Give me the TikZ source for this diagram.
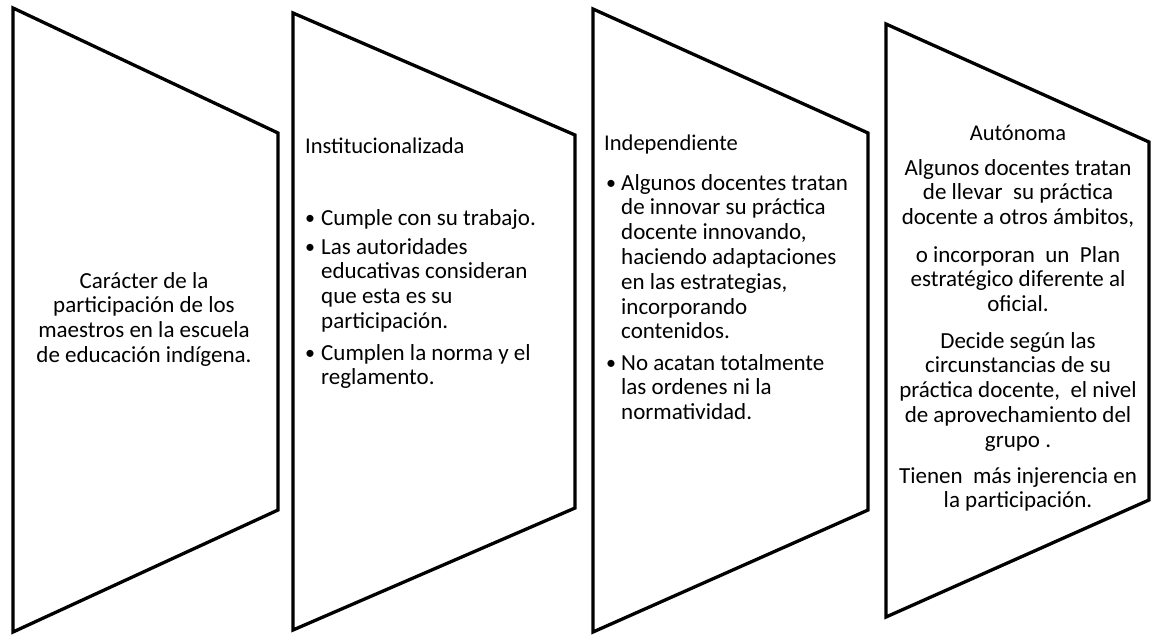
\documentclass[tikz,border=0pt]{standalone}
\usepackage{fontspec}
\setmainfont{Carlito}
\newcommand\LinesL[1]{\vtop{\halign{##\hfil\cr#1\crcr}}}
\newcommand\LinesC[1]{\vtop{\halign{\hfil##\hfil\cr#1\crcr}}}
\tikzset{
  panel/.style={draw=black, line width=3.3pt, line join=miter},
  bodytxt/.style={font=\fontsize{23}{24.8}\selectfont, inner sep=0pt, text=black},
  headtxt/.style={font=\fontsize{22.5}{24}\selectfont, inner sep=0pt, text=black},
  bulletmark/.style={font=\fontsize{20}{24.8}\selectfont, inner sep=0pt, text=black, anchor=base west},
}
\begin{document}
\begin{tikzpicture}[x=1pt,y=-1pt]
\useasboundingbox (0,0) rectangle (1151,635);
% panels
\draw[panel] (13,8) -- (278,133) -- (278,510) -- (13,632) -- cycle;
\draw[panel] (293,13) -- (575,135) -- (575,508) -- (293,630) -- cycle;
\draw[panel] (593,9) -- (868,133) -- (868,510) -- (593,632) -- cycle;
\draw[panel] (886,24) -- (1149,142) -- (1149,500) -- (886,617) -- cycle;
% column 1
\node[bodytxt, anchor=base] (c1) at (144,288)
  {\LinesC{Carácter de la\cr participación de los\cr maestros en la escuela\cr de educación indígena.}};
% column 2
\node[headtxt, anchor=base west] (h2) at (305,153) {Institucionalizada};
\node[bulletmark] (b21) at (305,224) {•};
\node[bodytxt, anchor=base west] (t21) at (321,225) {\LinesL{Cumple con su trabajo.}};
\node[bulletmark] (b22) at (305,253) {•};
\node[bodytxt, anchor=base west] (t22) at (321,254)
  {\LinesL{Las autoridades\cr educativas consideran\cr que esta es su\cr participación.}};
\node[bulletmark] (b23) at (305,359) {•};
\node[bodytxt, anchor=base west] (t23) at (321,360)
  {\LinesL{Cumplen la norma y el\cr reglamento.}};
% column 3
\node[headtxt, anchor=base west] (h3) at (604,150) {Independiente};
\node[bulletmark] (b31) at (606,189) {•};
\node[bodytxt, anchor=base west] (t31) at (621,190)
  {\LinesL{Algunos docentes tratan\cr de innovar su práctica\cr docente innovando,\cr haciendo adaptaciones\cr en las estrategias,\cr incorporando\cr contenidos.}};
\node[bulletmark] (b32) at (606,369) {•};
\node[bodytxt, anchor=base west] (t32) at (621,370)
  {\LinesL{No acatan totalmente\cr las ordenes ni la\cr normatividad.}};
% column 4
\node[headtxt, anchor=base] (h4) at (1018,140) {Autónoma};
\node[bodytxt, anchor=base] (p41) at (1018,175)
  {\LinesC{Algunos docentes tratan\cr de llevar\ \ su práctica\cr docente a otros ámbitos,}};
\node[bodytxt, anchor=base] (p42) at (1018,262)
  {\LinesC{o incorporan\ \ un\ \ Plan\cr estratégico diferente al\cr oficial.}};
\node[bodytxt, anchor=base] (p43) at (1018,348)
  {\LinesC{Decide según las\cr circunstancias de su\cr práctica docente,\ \ el nivel\cr de aprovechamiento del\cr grupo .}};
\node[bodytxt, anchor=base] (p44) at (1018,483)
  {\LinesC{Tienen\ \ más injerencia en\cr la participación.}};
\end{tikzpicture}
\end{document}
